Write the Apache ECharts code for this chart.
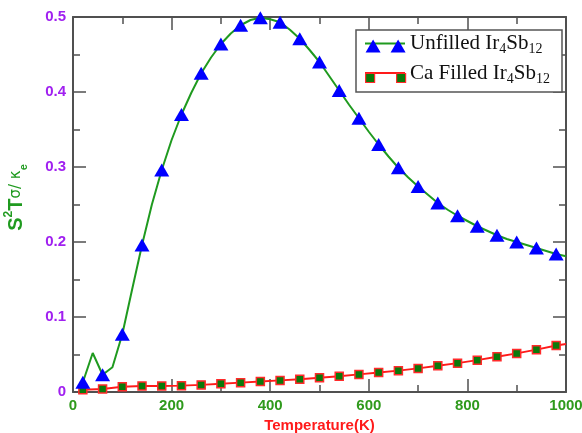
<!DOCTYPE html>
<html>
<head>
<meta charset="utf-8">
<script src="https://cdn.jsdelivr.net/npm/echarts@6/dist/echarts.min.js"></script>
<style>html,body{margin:0;padding:0;background:#fff}#c{width:582px;height:433px}</style>
</head>
<body>
<div id="c"></div>
<script>
// Temperatures (K) for the unfilled curve (markers on every other point)
const tempsUnfilled = [20,40,60,80,100,120,140,160,180,200,220,240,260,280,300,320,340,360,380,400,
  420,440,460,480,500,520,540,560,580,600,620,640,660,680,700,720,740,760,780,800,
  820,840,860,880,900,920,940,960,980,1000];
const unfilled = [0.013,0.052,0.023,0.033,0.077,0.137,0.196,0.250,0.296,0.336,0.370,0.399,0.425,0.446,0.464,0.478,0.489,0.496,0.499,0.497,
  0.493,0.483,0.471,0.456,0.440,0.421,0.402,0.383,0.365,0.347,0.330,0.314,0.299,0.286,0.274,0.263,0.252,0.243,0.235,0.228,
  0.221,0.215,0.209,0.204,0.200,0.196,0.192,0.188,0.184,0.181];
// Temperatures (K) for the Ca filled curve
const tempsFilled = [20,60,100,140,180,220,260,300,340,380,420,460,500,540,580,620,660,700,740,780,820,860,900,940,980,1000];
const caFilled = [0.003,0.004,0.007,0.008,0.008,0.0085,0.0095,0.011,0.0125,0.014,0.0155,0.017,0.019,0.021,0.0235,0.026,0.0285,0.0315,0.035,0.0385,0.0425,0.047,0.0515,0.0565,0.062,0.064];
const xTicks = {min: 0, max: 1000, interval: 200};
const yTicks = {min: 0, max: 0.5, interval: 0.1};
const seriesNames = ['Unfilled', 'CaFilled'];

const chart = echarts.init(document.getElementById('c'), null, {renderer: 'canvas'});

const axisColor = '#505050';
const xLabelColor = '#2f9a1c';
const yLabelColor = '#a020f0';

function xAxisCfg(pos, showLabel) {
  return {
    type: 'value', position: pos, min: xTicks.min, max: xTicks.max, interval: xTicks.interval,
    axisLine: {show: true, onZero: false, lineStyle: {color: axisColor, width: 2}},
    axisTick: {show: true, inside: true, length: 13, lineStyle: {color: axisColor, width: 1.5}},
    minorTick: {show: true, splitNumber: 2, length: 7, lineStyle: {color: axisColor, width: 1.5}},
    splitLine: {show: false},
    axisLabel: {show: showLabel, color: xLabelColor, fontWeight: 'bold', fontSize: 15, fontFamily: 'Liberation Sans', margin: 6,
      formatter: v => String(v)},
    name: showLabel ? 'Temperature(K)' : '',
    nameLocation: 'middle', nameGap: 23,
    nameTextStyle: {color: '#ff1a1a', fontWeight: 'bold', fontSize: 15, fontFamily: 'Liberation Sans'}
  };
}
function yAxisCfg(pos, showLabel) {
  return {
    type: 'value', position: pos, min: yTicks.min, max: yTicks.max, interval: yTicks.interval,
    axisLine: {show: true, onZero: false, lineStyle: {color: axisColor, width: 2}},
    axisTick: {show: true, inside: true, length: 13, lineStyle: {color: axisColor, width: 1.5}},
    minorTick: {show: true, splitNumber: 2, length: 7, lineStyle: {color: axisColor, width: 1.5}},
    splitLine: {show: false},
    axisLabel: {show: showLabel, color: yLabelColor, fontWeight: 'bold', fontSize: 15, fontFamily: 'Liberation Sans', margin: 7},
    name: showLabel ? '{b|S}{sup|2}{b|T}{m|σ/ κ}{sub|e}' : '',
    nameLocation: 'middle', nameRotate: 90, nameGap: 44,
    nameTextStyle: {
      color: '#1f9a1f', padding: [0, 0, 0, 14],
      rich: {
        b: {fontSize: 20, fontWeight: 'bold', fontFamily: 'Liberation Sans', color: '#1f9a1f', lineHeight: 26},
        sup: {fontSize: 12, fontWeight: 'bold', fontFamily: 'Liberation Sans', color: '#1f9a1f', lineHeight: 12, verticalAlign: 'top'},
        m: {fontSize: 15, fontFamily: 'DejaVu Sans', color: '#1f9a1f', lineHeight: 26},
        sub: {fontSize: 11, fontWeight: 'bold', fontFamily: 'Liberation Sans', color: '#1f9a1f', lineHeight: 12, verticalAlign: 'bottom'}
      }
    }
  };
}

const legendRich = {
  t: {fontSize: 21, fontFamily: 'Liberation Serif', color: '#111', lineHeight: 26},
  s: {fontSize: 14, fontFamily: 'Liberation Serif', color: '#111', lineHeight: 12, verticalAlign: 'bottom'}
};
const legendLabels = {
  Unfilled: '{t|Unfilled Ir}{s|4}{t|Sb}{s|12}',
  CaFilled: '{t|Ca Filled Ir}{s|4}{t|Sb}{s|12}'
};

const triPath = 'path://M0,13 L7.5,0 L15,13 Z M25,13 L32.5,0 L40,13 Z';
const sqPath = 'path://M0,0 M40,13 M0,2 L9,2 L9,11 L0,11 Z M31,2 L40,2 L40,11 L31,11 Z';

const option = {
  animation: false,
  backgroundColor: '#fff',
  grid: {left: 73, right: 16, top: 17, bottom: 41, containLabel: false, outerBoundsMode: 'none'},
  xAxis: [xAxisCfg('bottom', true), xAxisCfg('top', false)],
  yAxis: [yAxisCfg('left', true), yAxisCfg('right', false)],
  legend: [
    {
      orient: 'vertical', left: 356, top: 30, itemWidth: 40, itemHeight: 2, itemGap: 6, itemTextGap: 10,
      padding: [3, 12, 6, 9], borderColor: '#555', borderWidth: 1.5, backgroundColor: '#fff',
      selectedMode: false,
      formatter: n => legendLabels[n],
      textStyle: {rich: legendRich},
      data: [
        {name: seriesNames[0], icon: 'rect', itemStyle: {color: '#1f9a1f', borderWidth: 0}},
        {name: seriesNames[1], icon: 'rect', itemStyle: {color: '#ff1a1a', borderWidth: 0}}
      ]
    },
    {
      orient: 'vertical', left: 356, top: 30, itemWidth: 40, itemHeight: 13, itemGap: 6, itemTextGap: 10,
      padding: [3, 12, 6, 9], selectedMode: false,
      formatter: () => ' ',
      textStyle: {fontSize: 12, lineHeight: 26},
      data: [
        {name: seriesNames[0], icon: triPath, itemStyle: {color: '#0000ff', borderWidth: 0}},
        {name: seriesNames[1], icon: sqPath, itemStyle: {color: '#0a7a0a', borderColor: '#ff2a2a', borderWidth: 1.2}}
      ]
    }
  ],
  series: [
    {
      name: seriesNames[0], type: 'line', xAxisIndex: 0, yAxisIndex: 0,
      showAllSymbol: true, symbol: 'triangle', symbolSize: [15, 13],
      itemStyle: {color: '#0000ff'},
      lineStyle: {color: '#1f9a1f', width: 2},
      z: 3,
      data: tempsUnfilled.map((t, i) => (i % 2 === 0 && t < 1000)
        ? {value: [t, unfilled[i]]}
        : {value: [t, unfilled[i]], symbol: 'none'})
    },
    {
      name: seriesNames[1], type: 'line', xAxisIndex: 0, yAxisIndex: 0,
      showAllSymbol: true, symbol: 'rect', symbolSize: 8,
      itemStyle: {color: '#0a7a0a', borderColor: '#ff2a2a', borderWidth: 1.5},
      lineStyle: {color: '#ff1a1a', width: 2},
      z: 2,
      data: tempsFilled.map((t, i) => t < 1000
        ? {value: [t, caFilled[i]]}
        : {value: [t, caFilled[i]], symbol: 'none'})
    }
  ]
};
chart.setOption(option);
</script>
</body>
</html>
